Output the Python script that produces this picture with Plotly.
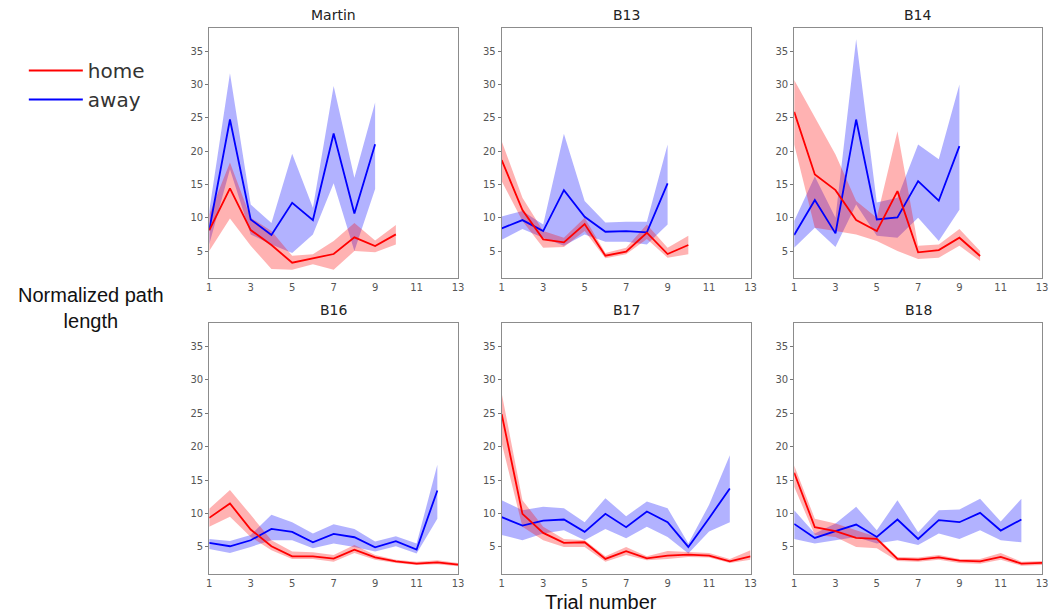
import plotly.graph_objects as go

# Trial-by-trial normalized path length per subject (mean with shaded spread)
subjects = ["Martin", "B13", "B14", "B16", "B17", "B18"]

home_mean = {
    "Martin": [8.1, 14.4, 8.15, 5.9, 3.25, 3.9, 4.55, 7.05, 5.75, 7.5],
    "B13": [18.65, 11.15, 6.75, 6.3, 9.05, 4.3, 4.9, 7.75, 4.55, 5.9],
    "B14": [25.9, 16.5, 14.15, 9.65, 8.0, 14.0, 4.8, 5.15, 7.0, 4.25],
    "B16": [9.35, 11.5, 7.6, 5.1, 3.6, 3.6, 3.25, 4.6, 3.45, 2.85, 2.5, 2.7, 2.35],
    "B17": [24.85, 9.95, 7.1, 5.6, 5.7, 3.2, 4.35, 3.3, 3.7, 3.85, 3.7, 2.85, 3.6],
    "B18": [16.1, 7.95, 7.35, 6.35, 6.2, 3.2, 3.1, 3.45, 2.95, 2.85, 3.5, 2.5, 2.6],
}
home_low = {
    "Martin": [5.0, 9.9, 5.8, 2.3, 2.2, 3.0, 2.2, 5.0, 4.8, 6.0],
    "B13": [15.5, 9.5, 5.5, 5.6, 8.0, 3.9, 4.5, 6.8, 4.0, 4.5],
    "B14": [21.0, 8.5, 8.0, 7.5, 6.5, 5.0, 3.8, 4.0, 5.8, 3.5],
    "B16": [8.0, 9.5, 6.5, 4.5, 3.2, 3.2, 2.8, 4.1, 3.1, 2.6, 2.3, 2.4, 2.1],
    "B17": [20.5, 8.0, 6.0, 5.0, 5.0, 2.8, 3.8, 3.0, 3.2, 3.5, 3.4, 2.6, 3.1],
    "B18": [14.0, 6.8, 6.5, 5.0, 4.8, 2.9, 2.8, 3.1, 2.6, 2.5, 3.1, 2.2, 2.3],
}
home_high = {
    "Martin": [10.5, 18.3, 10.0, 8.0, 4.3, 4.5, 6.5, 9.2, 6.6, 8.9],
    "B13": [21.5, 13.0, 8.0, 7.0, 10.0, 4.7, 5.5, 9.0, 5.5, 7.3],
    "B14": [30.7, 25.0, 19.5, 12.5, 10.0, 23.0, 5.8, 6.0, 8.3, 5.0],
    "B16": [10.7, 13.5, 9.8, 6.0, 4.3, 4.2, 3.8, 5.3, 3.8, 3.1, 2.8, 3.0, 2.6],
    "B17": [28.0, 12.0, 8.0, 6.2, 6.0, 3.6, 5.0, 3.6, 4.4, 4.3, 4.1, 3.2, 4.5],
    "B18": [17.2, 9.2, 8.5, 7.5, 6.5, 3.5, 3.4, 3.8, 3.2, 3.2, 4.1, 2.8, 2.9],
}

away_mean = {
    "Martin": [8.15, 24.75, 9.75, 7.4, 12.25, 9.65, 22.65, 10.65, 21.05],
    "B13": [8.4, 9.65, 8.0, 14.15, 10.15, 7.9, 8.0, 7.8, 15.15],
    "B14": [7.4, 12.65, 7.65, 24.75, 9.75, 10.05, 15.5, 12.55, 20.75],
    "B16": [5.6, 5.1, 6.0, 7.7, 7.25, 5.7, 6.95, 6.45, 4.95, 5.85, 4.6, 13.45],
    "B17": [9.45, 8.2, 8.95, 9.1, 7.25, 9.95, 7.95, 10.3, 8.7, 5.0, 9.3, 13.75],
    "B18": [8.45, 6.35, 7.35, 8.35, 6.5, 9.1, 6.2, 9.0, 8.7, 10.1, 7.45, 9.1],
}
away_low = {
    "Martin": [6.0, 17.3, 7.5, 6.0, 4.7, 7.5, 15.2, 5.0, 14.3],
    "B13": [6.7, 8.3, 7.0, 5.8, 7.5, 6.4, 6.4, 6.0, 9.0],
    "B14": [5.5, 8.5, 5.6, 12.0, 7.3, 7.0, 10.0, 6.5, 11.2],
    "B16": [4.7, 4.1, 5.0, 6.0, 6.0, 4.8, 5.5, 5.0, 4.3, 5.1, 4.0, 9.2],
    "B17": [6.8, 6.0, 7.0, 7.5, 6.0, 7.7, 6.3, 8.0, 6.5, 4.0, 7.3, 8.7],
    "B18": [6.2, 5.5, 6.0, 6.5, 5.5, 6.0, 5.3, 7.0, 6.2, 7.5, 6.0, 5.7],
}
away_high = {
    "Martin": [11.0, 31.7, 12.0, 9.2, 19.6, 11.5, 29.8, 16.0, 27.3],
    "B13": [10.2, 11.0, 9.0, 22.6, 12.5, 9.3, 9.4, 9.4, 21.0],
    "B14": [9.5, 16.2, 10.0, 36.8, 12.3, 13.0, 21.0, 18.8, 30.0],
    "B16": [6.2, 5.9, 6.8, 9.8, 8.7, 7.0, 8.4, 7.7, 5.8, 6.6, 5.5, 17.3],
    "B17": [12.0, 10.5, 11.0, 10.8, 8.7, 12.3, 9.6, 11.8, 10.8, 5.5, 11.3, 18.7],
    "B18": [10.5, 7.0, 8.5, 11.0, 7.5, 12.0, 7.2, 10.5, 10.6, 12.2, 8.8, 12.2],
}

x_ticks = [1, 3, 5, 7, 9, 11, 13]
y_ticks = [5, 10, 15, 20, 25, 30, 35]

W, H = 1053, 616
# panel boxes in pixels: (left, right) columns and (top, bottom) rows
cols_px = [(208, 459), (503, 754), (798, 1048)]
rows_px = [(28, 278), (323, 574)]

styles = {
    "home": dict(line="#ff0000", fill="rgba(255,0,0,0.3)"),
    "away": dict(line="#0000ff", fill="rgba(0,0,255,0.3)"),
}
series = {
    "away": (away_mean, away_low, away_high),
    "home": (home_mean, home_low, home_high),
}

fig = go.Figure()
annotations = []
for i, name in enumerate(subjects):
    r, c = divmod(i, 3)
    ax = "" if i == 0 else str(i + 1)
    xref, yref = "x" + ax, "y" + ax
    (l, rt), (t, b) = cols_px[c], rows_px[r]
    common = dict(showline=True, mirror=True, linecolor="#8c8c8c", linewidth=1,
                  showgrid=False, zeroline=False,
                  tickfont=dict(family="DejaVu Sans", size=10, color="#555555"))
    fig.update_layout(**{
        "xaxis" + ax: dict(domain=[l / W, rt / W], range=[1, 13], tickvals=x_ticks,
                           ticks="", anchor=yref, **common),
        "yaxis" + ax: dict(domain=[1 - b / H, 1 - t / H], range=[0.95, 38.5],
                           tickvals=y_ticks, ticks="outside", ticklen=3,
                           tickcolor="#777777", anchor=xref, **common),
    })
    # shaded bands first
    for key in ["away", "home"]:
        mean, low, high = series[key]
        xs = list(range(1, len(mean[name]) + 1))
        fig.add_trace(go.Scatter(x=xs, y=high[name], mode="lines", line=dict(width=0),
                                 showlegend=False, hoverinfo="skip",
                                 xaxis=xref, yaxis=yref))
        fig.add_trace(go.Scatter(x=xs, y=low[name], mode="lines", line=dict(width=0),
                                 fill="tonexty", fillcolor=styles[key]["fill"],
                                 showlegend=False, hoverinfo="skip",
                                 xaxis=xref, yaxis=yref))
    for key in ["away", "home"]:
        mean = series[key][0]
        xs = list(range(1, len(mean[name]) + 1))
        fig.add_trace(go.Scatter(x=xs, y=mean[name], mode="lines", name=key,
                                 line=dict(color=styles[key]["line"], width=1.8),
                                 showlegend=(i == 0), legendrank=(1 if key == "home" else 2),
                                 xaxis=xref, yaxis=yref))
    annotations.append(dict(text=name, x=(l + rt) / 2 / W, y=1 - (t - 3) / H,
                            xref="paper", yref="paper", xanchor="center", yanchor="bottom",
                            showarrow=False,
                            font=dict(family="DejaVu Sans", size=14, color="#222222")))

annotations.append(dict(text="Normalized path<br>length", x=89 / W, y=1 - 308 / H,
                        xref="paper", yref="paper", xanchor="center", yanchor="middle",
                        showarrow=False, align="center",
                        font=dict(family="Liberation Sans", size=20, color="#111111")))
annotations.append(dict(text="Trial number", x=603 / W, y=1 - 602 / H,
                        xref="paper", yref="paper", xanchor="center", yanchor="middle",
                        showarrow=False,
                        font=dict(family="Liberation Sans", size=20, color="#111111")))

fig.update_layout(
    width=W, height=H, margin=dict(l=0, r=0, t=0, b=0),
    paper_bgcolor="white", plot_bgcolor="white",
    annotations=annotations,
    legend=dict(x=21 / W, y=1 - 51 / H, xanchor="left", yanchor="top",
                traceorder="normal",
                font=dict(family="DejaVu Sans", size=20, color="#333333"),
                bgcolor="rgba(0,0,0,0)", tracegroupgap=0, itemwidth=54),
)

fig.write_html("out.html")
